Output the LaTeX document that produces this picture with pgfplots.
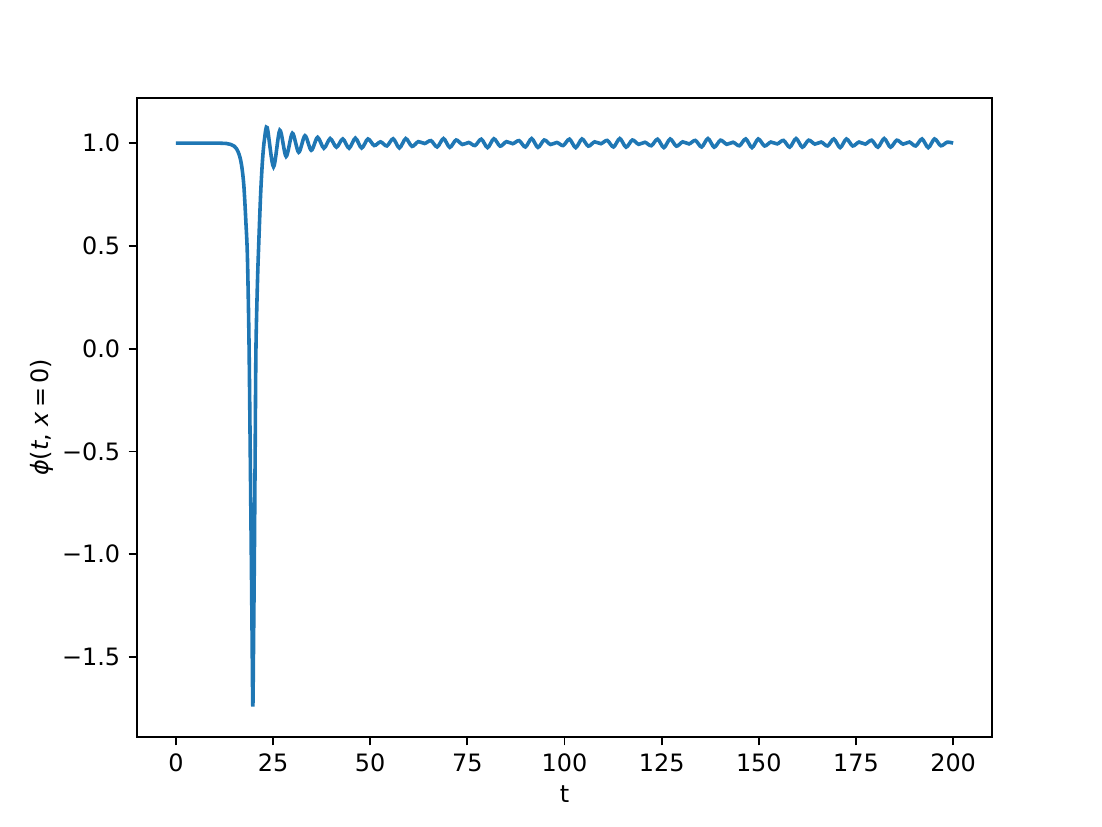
\documentclass[border=0pt]{standalone}
\usepackage{fontspec}
\setmainfont{DejaVu Sans}
\usepackage{pgfplots}
\pgfplotsset{compat=1.18}
\definecolor{mplblue}{HTML}{1F77B4}
\begin{document}
\begin{tikzpicture}
\path[use as bounding box] (-57.3pt,-37.6pt) rectangle (403.5pt,308.2pt);
\begin{axis}[
  at={(0pt,0pt)}, anchor=south west,
  scale only axis,
  width=357.5pt, height=267.2pt,
  xmin=-10, xmax=210, ymin=-1.889, ymax=1.219,
  xtick={0,25,50,75,100,125,150,175,200},
  xticklabels={0,25,50,75,100,125,150,175,200},
  ytick={-1.5,-1.0,-0.5,0.0,0.5,1.0},
  yticklabels={−1.5,−1.0,−0.5,0.0,0.5,1.0},
  tick align=outside,
  xtick pos=bottom, ytick pos=left,
  major tick length=3.5pt,
  tick style={black, line width=0.8pt},
  axis line style={line width=0.8pt},
  ticklabel style={font=\fontsize{10}{12}\selectfont},
  label style={font=\fontsize{10}{12}\selectfont},
  xlabel={t},
  ylabel={\textit{ϕ}(\textit{t}, \textit{x}\,=\,0)},
  xlabel style={at={(axis description cs:0.5,0)}, anchor=north, yshift=-17pt},
  ylabel style={at={(axis description cs:-0.111,0.5)}, anchor=center, rotate=0},
]
\addplot[mplblue, line width=1.5pt, smooth, tension=0.5] coordinates {
(0,1.0) (5,1.0) (10,1.0) (12,0.999) (13,0.998) (14,0.994) (15,0.985) (15.5,0.975)
(16,0.958) (16.5,0.93) (17,0.88) (17.5,0.79) (18,0.62) (18.4,0.45) (18.8,0.05)
(19.1,-0.45) (19.4,-1.0) (19.6,-1.38) (19.8,-1.74) (20.0,-1.40) (20.2,-1.0)
(20.4,-0.5) (20.6,0.0) (21.0,0.33) (21.3,0.5) (21.8,0.75) (22.3,0.92) (22.8,1.02)
(23.5,1.075) (25.12,0.885) (26.74,1.062) (28.36,0.935) (29.98,1.048) (31.60,0.955)
(33.22,1.036) (34.84,0.965) (36.46,1.028) (38.08,0.975) (39.70,1.022) (41.32,0.980)
(42.94,1.020) (44.56,0.975) (46.18,1.024) (47.80,0.976) (49.42,1.020) (51.04,0.988)
(52.66,1.006) (54.28,0.986) (55.90,1.021) (57.52,0.976) (59.14,1.022)
(60.76,0.984) (62.38,1.007) (64.00,0.998) (65.62,1.012) (67.24,0.981) (68.86,1.022)
(70.48,0.979) (72.10,1.015) (73.72,0.993) (75.34,1.003) (76.96,0.988) (78.58,1.019)
(80.20,0.978) (81.82,1.021) (83.44,0.985) (85.06,1.007) (86.68,0.997) (88.30,1.012)
(89.92,0.981) (91.54,1.022) (93.16,0.979) (94.78,1.015) (96.40,0.993) (98.02,1.003)
(99.64,0.988) (101.26,1.019) (102.88,0.978) (104.50,1.020) (106.12,0.985) (107.74,1.006)
(109.36,0.997) (110.98,1.013) (112.60,0.981) (114.22,1.022) (115.84,0.980) (117.46,1.015)
(119.08,0.994) (120.70,1.004) (122.32,0.987) (123.94,1.019) (125.56,0.978) (127.18,1.020)
(128.80,0.985) (130.42,1.006) (132.04,0.996) (133.66,1.013) (135.28,0.981) (136.90,1.022)
(138.52,0.980) (140.14,1.014) (141.76,0.994) (143.38,1.004) (145.00,0.987) (146.62,1.020)
(148.24,0.978) (149.86,1.020) (151.48,0.986) (153.10,1.005) (154.72,0.996) (156.34,1.013)
(157.96,0.980) (159.58,1.022) (161.20,0.980) (162.82,1.014) (164.44,0.995) (166.06,1.005)
(167.68,0.986) (169.30,1.020) (170.92,0.978) (172.54,1.020) (174.16,0.986) (175.78,1.005)
(177.40,0.995) (179.02,1.014) (180.64,0.980) (182.26,1.022) (183.88,0.980) (185.50,1.014)
(187.12,0.995) (188.74,1.005) (190.36,0.986) (191.98,1.020) (193.60,0.978) (195.22,1.020)
(196.84,0.987) (198.46,1.004) (200.00,1.000)
};
\end{axis}
\end{tikzpicture}
\end{document}
